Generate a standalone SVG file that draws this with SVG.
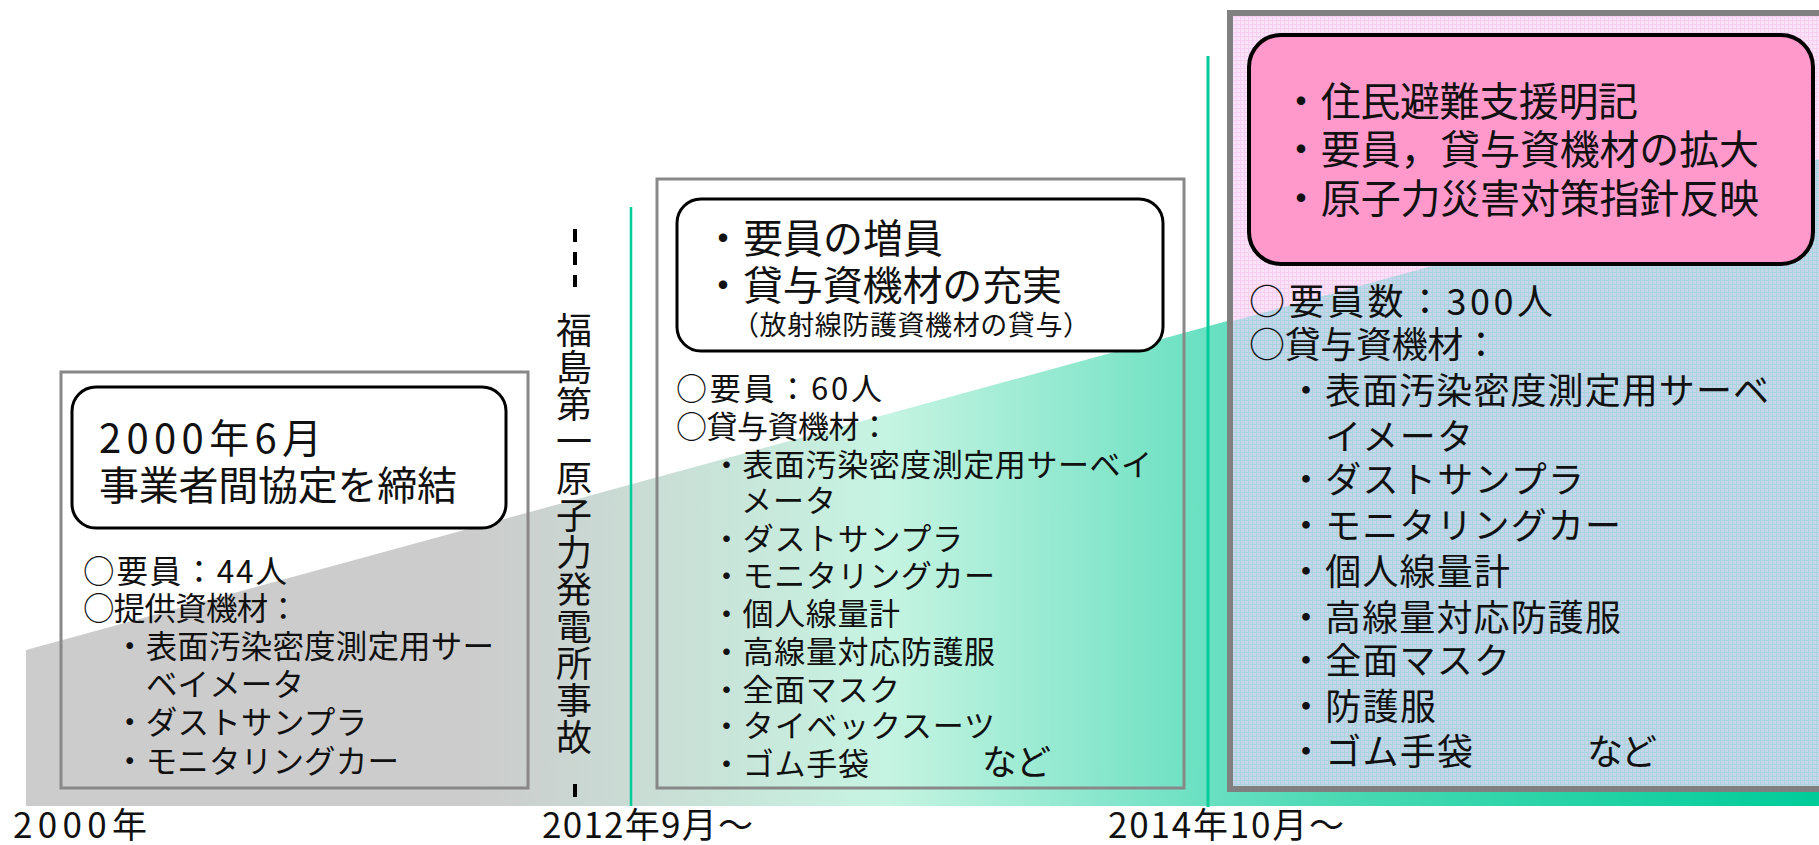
<svg xmlns="http://www.w3.org/2000/svg" width="1819" height="845" viewBox="0 0 1819 845">
<defs>
<linearGradient id="wedgeGrad" gradientUnits="userSpaceOnUse" x1="26" y1="0" x2="1819" y2="0">
<stop offset="0" stop-color="#cccccc"/>
<stop offset="0.25" stop-color="#cccccc"/>
<stop offset="0.48" stop-color="#c6f4e2"/>
<stop offset="0.666" stop-color="#66dfc0"/>
<stop offset="0.733" stop-color="#4ad9b2"/>
<stop offset="1" stop-color="#00cc99"/>
</linearGradient>
<pattern id="pinkPat" width="4" height="4" patternUnits="userSpaceOnUse">
<rect width="4" height="4" fill="#fbe2f8"/>
<rect width="4" height="1" fill="#f6d0f0"/>
<rect width="1" height="4" fill="#f6d0f0"/>
</pattern>
<pattern id="bluePat" width="4" height="4" patternUnits="userSpaceOnUse">
<rect width="4" height="4" fill="#c6d4ec"/>
<rect width="4" height="1" fill="#a8d6dc"/>
<rect width="1" height="4" fill="#a8d6dc"/>
</pattern>
</defs>
<style>
text{font-family:"Noto Sans CJK JP","Noto Sans CJK SC",sans-serif;fill:#111}
.frame{fill:none;stroke:#888888;stroke-width:3}
.rbox{fill:#ffffff;stroke:#000000;stroke-width:3}
.mark{stroke:#00cc99;fill:none}
.l1{font-size:31.5px}
.l2{font-size:31px}
.l3{font-size:36px}
.head{font-size:40px}
.year{font-size:35px}
.vert{font-size:36px;writing-mode:vertical-rl;letter-spacing:1px}
</style>
<rect width="1819" height="845" fill="#ffffff"/>
<g id="wedge">
<polygon points="26,650 1819,159 1819,806 26,806" fill="url(#wedgeGrad)"/>
</g>
<g id="period-2014">
<rect x="1230" y="13" width="600" height="776" fill="url(#pinkPat)"/>
<polygon points="1233,321 1819,159 1819,786 1233,786" fill="url(#bluePat)"/>
<rect x="1230" y="13" width="600" height="776" fill="none" stroke="#808080" stroke-width="6"/>
<rect x="1249" y="35" width="564" height="229" rx="32" fill="#ff99cc" stroke="#000" stroke-width="4"/>
<text class="head" x="1281" y="116" textLength="357">・住民避難支援明記</text>
<text class="head" x="1281" y="164" textLength="478">・要員，貸与資機材の拡大</text>
<text class="head" x="1281" y="213" textLength="478">・原子力災害対策指針反映</text>
<text class="l3" x="1249" y="315" textLength="304">○要員数：300人</text>
<text class="l3" x="1249" y="358" textLength="250">○貸与資機材：</text>
<text class="l3" x="1288" y="404" textLength="481">・表面汚染密度測定用サーベ</text>
<text class="l3" x="1325" y="450" textLength="148">イメータ</text>
<text class="l3" x="1288" y="493" textLength="296">・ダストサンプラ</text>
<text class="l3" x="1288" y="539" textLength="333">・モニタリングカー</text>
<text class="l3" x="1288" y="585" textLength="222">・個人線量計</text>
<text class="l3" x="1288" y="631" textLength="333">・高線量対応防護服</text>
<text class="l3" x="1288" y="674" textLength="222">・全面マスク</text>
<text class="l3" x="1288" y="720" textLength="148">・防護服</text>
<text class="l3" x="1288" y="765"><tspan textLength="185">・ゴム手袋</tspan><tspan x="1587" textLength="70">など</tspan></text>
</g>
<g id="timeline-markers">
<line class="mark" x1="631" y1="207" x2="631" y2="806" stroke-width="2.5"/>
<line class="mark" x1="1208" y1="56" x2="1208" y2="807" stroke-width="3"/>
</g>
<g id="period-2000">
<rect class="frame" x="61" y="372" width="467" height="416"/>
<rect class="rbox" x="72" y="387" width="434" height="141" rx="24"/>
<text class="head" x="99" y="453" textLength="223">2000年6月</text>
<text class="head" x="99" y="500" textLength="358">事業者間協定を締結</text>
<text class="l1" x="83" y="583" textLength="204">○要員：44人</text>
<text class="l1" x="83" y="620" textLength="216">○提供資機材：</text>
<text class="l1" x="114" y="658" textLength="380">・表面汚染密度測定用サー</text>
<text class="l1" x="146" y="696" textLength="158">ベイメータ</text>
<text class="l1" x="114" y="734" textLength="253">・ダストサンプラ</text>
<text class="l1" x="114" y="773" textLength="285">・モニタリングカー</text>
</g>
<g id="accident">
<g fill="#000">
<rect x="573" y="229" width="4" height="13"/>
<rect x="573" y="252" width="4" height="13"/>
<rect x="573" y="275" width="4" height="12"/>
<rect x="573" y="784" width="4" height="13"/>
</g>
<text class="vert" x="574" y="312">福島第一原子力発電所事故</text>
</g>
<g id="period-2012">
<rect class="frame" x="657" y="179" width="527" height="609"/>
<rect class="rbox" x="677" y="199" width="486" height="152" rx="24"/>
<text class="head" x="703" y="253" textLength="240">・要員の増員</text>
<text class="head" x="703" y="300" textLength="359">・貸与資機材の充実</text>
<text font-size="27" x="732" y="335" textLength="358">（放射線防護資機材の貸与）</text>
<text class="l2" x="676" y="400" textLength="206">○要員：60人</text>
<text class="l2" x="676" y="438" textLength="214">○貸与資機材：</text>
<text class="l2" x="711" y="476" textLength="441">・表面汚染密度測定用サーベイ</text>
<text class="l2" x="741" y="512" textLength="95">メータ</text>
<text class="l2" x="711" y="550" textLength="252">・ダストサンプラ</text>
<text class="l2" x="711" y="587" textLength="284">・モニタリングカー</text>
<text class="l2" x="711" y="625" textLength="189">・個人線量計</text>
<text class="l2" x="711" y="663" textLength="284">・高線量対応防護服</text>
<text class="l2" x="711" y="701" textLength="189">・全面マスク</text>
<text class="l2" x="711" y="737" textLength="284">・タイベックスーツ</text>
<text class="l2" x="711" y="775"><tspan textLength="158">・ゴム手袋</tspan><tspan x="982" font-size="35" textLength="69">など</tspan></text>
</g>
<g id="axis-labels">
<text class="year" x="13" y="838" textLength="134">2000年</text>
<text class="year" x="542" y="838" textLength="211">2012年9月～</text>
<text class="year" x="1108" y="838" textLength="236">2014年10月～</text>
</g>
</svg>
